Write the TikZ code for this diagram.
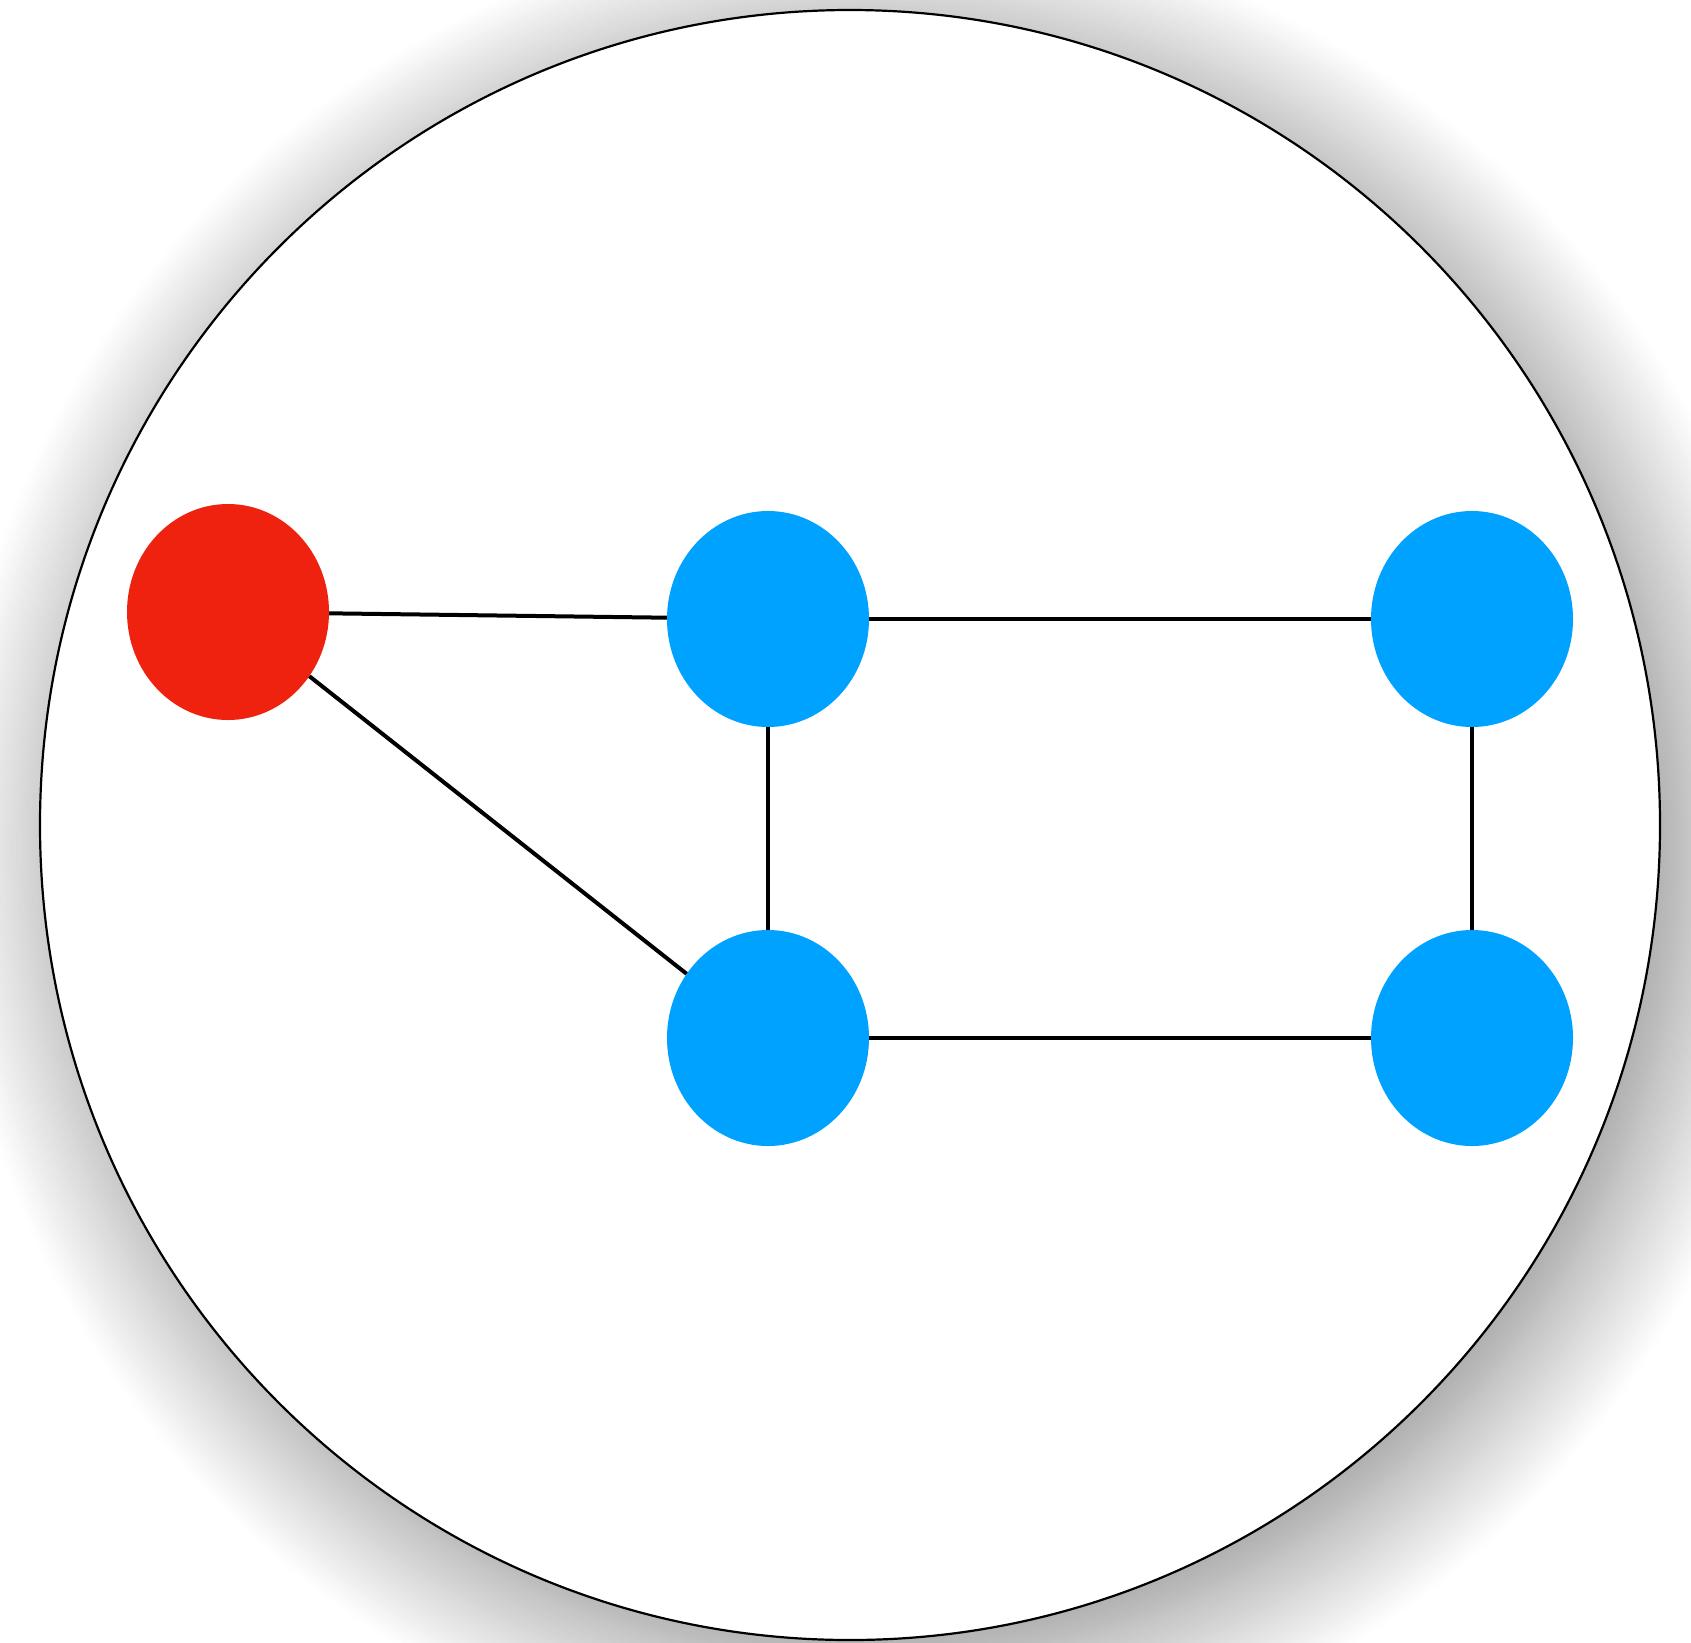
\documentclass[tikz,border=0pt]{standalone}
\usetikzlibrary{shapes.geometric,shadows.blur}
\definecolor{nodered}{RGB}{238,34,14}
\definecolor{nodeblue}{RGB}{0,162,255}
\begin{document}
\begin{tikzpicture}[x=1pt,y=-1pt,
  vert/.style={ellipse,minimum width=202pt,minimum height=216pt,inner sep=0pt,draw=none},
  edge/.style={line width=4pt,black},
  frame/.style={ellipse,minimum width=1620pt,minimum height=1630pt,inner sep=0pt,
    draw=black,line width=2.2pt,fill=white,
    blur shadow={shadow xshift=24pt,shadow yshift=-24pt,shadow blur radius=115pt,shadow opacity=48,shadow blur steps=40}}]
\useasboundingbox (0,0) rectangle (1691,1642);
\node[frame] (bg) at (850,825) {};
\node[vert,fill=nodered] (r) at (228,612) {};
\node[vert,fill=nodeblue] (a) at (768,619) {};
\node[vert,fill=nodeblue] (b) at (1472,619) {};
\node[vert,fill=nodeblue] (c) at (768,1038) {};
\node[vert,fill=nodeblue] (d) at (1472,1038) {};
\draw[edge] (r) -- (a);
\draw[edge] (r) -- (c);
\draw[edge] (a) -- (b);
\draw[edge] (a) -- (c);
\draw[edge] (b) -- (d);
\draw[edge] (c) -- (d);
\end{tikzpicture}
\end{document}
